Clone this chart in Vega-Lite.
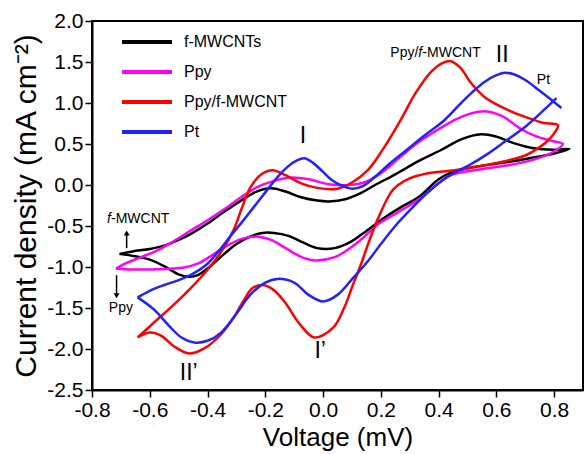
{
"$schema": "https://vega.github.io/schema/vega-lite/v6.json",
"width": 491, "height": 369,
"autosize": {"type": "none"},
"padding": {"left": 92, "top": 21, "right": 2, "bottom": 64},
"background": "white",
"config": {
  "view": {"stroke": "black", "strokeWidth": 2},
  "font": "Liberation Sans",
  "axis": {"grid": false, "domainColor": "black", "domainWidth": 2, "tickColor": "black", "tickWidth": 1.5, "labelColor": "black", "titleColor": "black", "labelFont": "Liberation Sans", "titleFont": "Liberation Sans", "titleFontWeight": "normal", "labelFontSize": 21, "labelOverlap": false, "labelFlush": false}
},
"datasets": {
  "curves": [
    {"series":"f-MWCNTs","seg":"a","i":0,"V":-0.705,"J":-0.84},
    {"series":"f-MWCNTs","seg":"a","i":1,"V":-0.66,"J":-0.81},
    {"series":"f-MWCNTs","seg":"a","i":2,"V":-0.60,"J":-0.78},
    {"series":"f-MWCNTs","seg":"a","i":3,"V":-0.55,"J":-0.74},
    {"series":"f-MWCNTs","seg":"a","i":4,"V":-0.50,"J":-0.67},
    {"series":"f-MWCNTs","seg":"a","i":5,"V":-0.45,"J":-0.58},
    {"series":"f-MWCNTs","seg":"a","i":6,"V":-0.40,"J":-0.47},
    {"series":"f-MWCNTs","seg":"a","i":7,"V":-0.34,"J":-0.32},
    {"series":"f-MWCNTs","seg":"a","i":8,"V":-0.284,"J":-0.19},
    {"series":"f-MWCNTs","seg":"a","i":9,"V":-0.23,"J":-0.08},
    {"series":"f-MWCNTs","seg":"a","i":10,"V":-0.18,"J":-0.04},
    {"series":"f-MWCNTs","seg":"a","i":11,"V":-0.13,"J":-0.08},
    {"series":"f-MWCNTs","seg":"a","i":12,"V":-0.076,"J":-0.15},
    {"series":"f-MWCNTs","seg":"a","i":13,"V":-0.02,"J":-0.19},
    {"series":"f-MWCNTs","seg":"a","i":14,"V":0.02,"J":-0.20},
    {"series":"f-MWCNTs","seg":"a","i":15,"V":0.08,"J":-0.17},
    {"series":"f-MWCNTs","seg":"a","i":16,"V":0.13,"J":-0.10},
    {"series":"f-MWCNTs","seg":"a","i":17,"V":0.18,"J":0.0},
    {"series":"f-MWCNTs","seg":"a","i":18,"V":0.25,"J":0.13},
    {"series":"f-MWCNTs","seg":"a","i":19,"V":0.33,"J":0.29},
    {"series":"f-MWCNTs","seg":"a","i":20,"V":0.41,"J":0.43},
    {"series":"f-MWCNTs","seg":"a","i":21,"V":0.48,"J":0.56},
    {"series":"f-MWCNTs","seg":"a","i":22,"V":0.547,"J":0.62},
    {"series":"f-MWCNTs","seg":"a","i":23,"V":0.60,"J":0.59},
    {"series":"f-MWCNTs","seg":"a","i":24,"V":0.645,"J":0.53},
    {"series":"f-MWCNTs","seg":"a","i":25,"V":0.70,"J":0.47},
    {"series":"f-MWCNTs","seg":"a","i":26,"V":0.75,"J":0.44},
    {"series":"f-MWCNTs","seg":"a","i":27,"V":0.80,"J":0.43},
    {"series":"f-MWCNTs","seg":"a","i":28,"V":0.853,"J":0.44},
    {"series":"f-MWCNTs","seg":"a","i":29,"V":0.80,"J":0.385},
    {"series":"f-MWCNTs","seg":"a","i":30,"V":0.72,"J":0.33},
    {"series":"f-MWCNTs","seg":"a","i":31,"V":0.64,"J":0.28},
    {"series":"f-MWCNTs","seg":"a","i":32,"V":0.524,"J":0.22},
    {"series":"f-MWCNTs","seg":"a","i":33,"V":0.443,"J":0.15},
    {"series":"f-MWCNTs","seg":"a","i":34,"V":0.40,"J":0.07},
    {"series":"f-MWCNTs","seg":"a","i":35,"V":0.33,"J":-0.15},
    {"series":"f-MWCNTs","seg":"a","i":36,"V":0.27,"J":-0.27},
    {"series":"f-MWCNTs","seg":"a","i":37,"V":0.212,"J":-0.40},
    {"series":"f-MWCNTs","seg":"a","i":38,"V":0.15,"J":-0.56},
    {"series":"f-MWCNTs","seg":"a","i":39,"V":0.097,"J":-0.69},
    {"series":"f-MWCNTs","seg":"a","i":40,"V":0.04,"J":-0.77},
    {"series":"f-MWCNTs","seg":"a","i":41,"V":-0.02,"J":-0.77},
    {"series":"f-MWCNTs","seg":"a","i":42,"V":-0.076,"J":-0.69},
    {"series":"f-MWCNTs","seg":"a","i":43,"V":-0.12,"J":-0.62},
    {"series":"f-MWCNTs","seg":"a","i":44,"V":-0.17,"J":-0.585},
    {"series":"f-MWCNTs","seg":"a","i":45,"V":-0.21,"J":-0.585},
    {"series":"f-MWCNTs","seg":"a","i":46,"V":-0.26,"J":-0.64},
    {"series":"f-MWCNTs","seg":"a","i":47,"V":-0.30,"J":-0.72},
    {"series":"f-MWCNTs","seg":"a","i":48,"V":-0.342,"J":-0.84},
    {"series":"f-MWCNTs","seg":"a","i":49,"V":-0.39,"J":-0.99},
    {"series":"f-MWCNTs","seg":"a","i":50,"V":-0.434,"J":-1.10},
    {"series":"f-MWCNTs","seg":"a","i":51,"V":-0.465,"J":-1.12},
    {"series":"f-MWCNTs","seg":"a","i":52,"V":-0.50,"J":-1.09},
    {"series":"f-MWCNTs","seg":"a","i":53,"V":-0.55,"J":-0.99},
    {"series":"f-MWCNTs","seg":"a","i":54,"V":-0.60,"J":-0.91},
    {"series":"f-MWCNTs","seg":"a","i":55,"V":-0.65,"J":-0.87},
    {"series":"f-MWCNTs","seg":"a","i":56,"V":-0.705,"J":-0.84},

    {"series":"Ppy","seg":"a","i":0,"V":-0.717,"J":-1.02},
    {"series":"Ppy","seg":"a","i":1,"V":-0.68,"J":-0.95},
    {"series":"Ppy","seg":"a","i":2,"V":-0.63,"J":-0.88},
    {"series":"Ppy","seg":"a","i":3,"V":-0.57,"J":-0.79},
    {"series":"Ppy","seg":"a","i":4,"V":-0.515,"J":-0.68},
    {"series":"Ppy","seg":"a","i":5,"V":-0.46,"J":-0.56},
    {"series":"Ppy","seg":"a","i":6,"V":-0.40,"J":-0.43},
    {"series":"Ppy","seg":"a","i":7,"V":-0.34,"J":-0.29},
    {"series":"Ppy","seg":"a","i":8,"V":-0.284,"J":-0.15},
    {"series":"Ppy","seg":"a","i":9,"V":-0.23,"J":-0.03},
    {"series":"Ppy","seg":"a","i":10,"V":-0.17,"J":0.05},
    {"series":"Ppy","seg":"a","i":11,"V":-0.11,"J":0.09},
    {"series":"Ppy","seg":"a","i":12,"V":-0.05,"J":0.07},
    {"series":"Ppy","seg":"a","i":13,"V":0.02,"J":0.01},
    {"series":"Ppy","seg":"a","i":14,"V":0.09,"J":0.0},
    {"series":"Ppy","seg":"a","i":15,"V":0.15,"J":0.04},
    {"series":"Ppy","seg":"a","i":16,"V":0.21,"J":0.17},
    {"series":"Ppy","seg":"a","i":17,"V":0.27,"J":0.35},
    {"series":"Ppy","seg":"a","i":18,"V":0.33,"J":0.52},
    {"series":"Ppy","seg":"a","i":19,"V":0.40,"J":0.68},
    {"series":"Ppy","seg":"a","i":20,"V":0.46,"J":0.80},
    {"series":"Ppy","seg":"a","i":21,"V":0.51,"J":0.87},
    {"series":"Ppy","seg":"a","i":22,"V":0.56,"J":0.90},
    {"series":"Ppy","seg":"a","i":23,"V":0.62,"J":0.84},
    {"series":"Ppy","seg":"a","i":24,"V":0.686,"J":0.68},
    {"series":"Ppy","seg":"a","i":25,"V":0.74,"J":0.59},
    {"series":"Ppy","seg":"a","i":26,"V":0.79,"J":0.54},
    {"series":"Ppy","seg":"a","i":27,"V":0.83,"J":0.50},
    {"series":"Ppy","seg":"a","i":28,"V":0.79,"J":0.39},
    {"series":"Ppy","seg":"a","i":29,"V":0.72,"J":0.30},
    {"series":"Ppy","seg":"a","i":30,"V":0.64,"J":0.24},
    {"series":"Ppy","seg":"a","i":31,"V":0.524,"J":0.18},
    {"series":"Ppy","seg":"a","i":32,"V":0.443,"J":0.12},
    {"series":"Ppy","seg":"a","i":33,"V":0.40,"J":0.02},
    {"series":"Ppy","seg":"a","i":34,"V":0.33,"J":-0.18},
    {"series":"Ppy","seg":"a","i":35,"V":0.26,"J":-0.33},
    {"series":"Ppy","seg":"a","i":36,"V":0.19,"J":-0.48},
    {"series":"Ppy","seg":"a","i":37,"V":0.14,"J":-0.64},
    {"series":"Ppy","seg":"a","i":38,"V":0.097,"J":-0.76},
    {"series":"Ppy","seg":"a","i":39,"V":0.04,"J":-0.88},
    {"series":"Ppy","seg":"a","i":40,"V":-0.03,"J":-0.92},
    {"series":"Ppy","seg":"a","i":41,"V":-0.08,"J":-0.87},
    {"series":"Ppy","seg":"a","i":42,"V":-0.134,"J":-0.76},
    {"series":"Ppy","seg":"a","i":43,"V":-0.18,"J":-0.67},
    {"series":"Ppy","seg":"a","i":44,"V":-0.226,"J":-0.63},
    {"series":"Ppy","seg":"a","i":45,"V":-0.284,"J":-0.66},
    {"series":"Ppy","seg":"a","i":46,"V":-0.342,"J":-0.76},
    {"series":"Ppy","seg":"a","i":47,"V":-0.39,"J":-0.87},
    {"series":"Ppy","seg":"a","i":48,"V":-0.434,"J":-0.96},
    {"series":"Ppy","seg":"a","i":49,"V":-0.48,"J":-1.005},
    {"series":"Ppy","seg":"a","i":50,"V":-0.53,"J":-1.02},
    {"series":"Ppy","seg":"a","i":51,"V":-0.60,"J":-1.03},
    {"series":"Ppy","seg":"a","i":52,"V":-0.66,"J":-1.03},
    {"series":"Ppy","seg":"a","i":53,"V":-0.717,"J":-1.02},

    {"series":"Ppy/f-MWCNT","seg":"a","i":0,"V":-0.642,"J":-1.86},
    {"series":"Ppy/f-MWCNT","seg":"a","i":1,"V":-0.58,"J":-1.66},
    {"series":"Ppy/f-MWCNT","seg":"a","i":2,"V":-0.526,"J":-1.49},
    {"series":"Ppy/f-MWCNT","seg":"a","i":3,"V":-0.47,"J":-1.30},
    {"series":"Ppy/f-MWCNT","seg":"a","i":4,"V":-0.411,"J":-1.08},
    {"series":"Ppy/f-MWCNT","seg":"a","i":5,"V":-0.35,"J":-0.80},
    {"series":"Ppy/f-MWCNT","seg":"a","i":6,"V":-0.31,"J":-0.55},
    {"series":"Ppy/f-MWCNT","seg":"a","i":7,"V":-0.28,"J":-0.27},
    {"series":"Ppy/f-MWCNT","seg":"a","i":8,"V":-0.25,"J":-0.02},
    {"series":"Ppy/f-MWCNT","seg":"a","i":9,"V":-0.21,"J":0.14},
    {"series":"Ppy/f-MWCNT","seg":"a","i":10,"V":-0.175,"J":0.18},
    {"series":"Ppy/f-MWCNT","seg":"a","i":11,"V":-0.13,"J":0.12},
    {"series":"Ppy/f-MWCNT","seg":"a","i":12,"V":-0.076,"J":0.02},
    {"series":"Ppy/f-MWCNT","seg":"a","i":13,"V":-0.02,"J":-0.035},
    {"series":"Ppy/f-MWCNT","seg":"a","i":14,"V":0.05,"J":-0.045},
    {"series":"Ppy/f-MWCNT","seg":"a","i":15,"V":0.10,"J":0.03},
    {"series":"Ppy/f-MWCNT","seg":"a","i":16,"V":0.155,"J":0.18},
    {"series":"Ppy/f-MWCNT","seg":"a","i":17,"V":0.21,"J":0.45},
    {"series":"Ppy/f-MWCNT","seg":"a","i":18,"V":0.27,"J":0.80},
    {"series":"Ppy/f-MWCNT","seg":"a","i":19,"V":0.32,"J":1.12},
    {"series":"Ppy/f-MWCNT","seg":"a","i":20,"V":0.374,"J":1.38},
    {"series":"Ppy/f-MWCNT","seg":"a","i":21,"V":0.415,"J":1.49},
    {"series":"Ppy/f-MWCNT","seg":"a","i":22,"V":0.443,"J":1.51},
    {"series":"Ppy/f-MWCNT","seg":"a","i":23,"V":0.475,"J":1.43},
    {"series":"Ppy/f-MWCNT","seg":"a","i":24,"V":0.513,"J":1.24},
    {"series":"Ppy/f-MWCNT","seg":"a","i":25,"V":0.56,"J":1.07},
    {"series":"Ppy/f-MWCNT","seg":"a","i":26,"V":0.63,"J":0.93},
    {"series":"Ppy/f-MWCNT","seg":"a","i":27,"V":0.70,"J":0.83},
    {"series":"Ppy/f-MWCNT","seg":"a","i":28,"V":0.76,"J":0.76},
    {"series":"Ppy/f-MWCNT","seg":"a","i":29,"V":0.813,"J":0.73},
    {"series":"Ppy/f-MWCNT","seg":"a","i":30,"V":0.80,"J":0.63},
    {"series":"Ppy/f-MWCNT","seg":"a","i":31,"V":0.775,"J":0.53},
    {"series":"Ppy/f-MWCNT","seg":"a","i":32,"V":0.745,"J":0.45},
    {"series":"Ppy/f-MWCNT","seg":"a","i":33,"V":0.70,"J":0.36},
    {"series":"Ppy/f-MWCNT","seg":"a","i":34,"V":0.628,"J":0.29},
    {"series":"Ppy/f-MWCNT","seg":"a","i":35,"V":0.55,"J":0.235},
    {"series":"Ppy/f-MWCNT","seg":"a","i":36,"V":0.455,"J":0.18},
    {"series":"Ppy/f-MWCNT","seg":"a","i":37,"V":0.36,"J":0.14},
    {"series":"Ppy/f-MWCNT","seg":"a","i":38,"V":0.30,"J":0.08},
    {"series":"Ppy/f-MWCNT","seg":"a","i":39,"V":0.26,"J":0.0},
    {"series":"Ppy/f-MWCNT","seg":"a","i":40,"V":0.235,"J":-0.09},
    {"series":"Ppy/f-MWCNT","seg":"a","i":41,"V":0.19,"J":-0.41},
    {"series":"Ppy/f-MWCNT","seg":"a","i":42,"V":0.16,"J":-0.68},
    {"series":"Ppy/f-MWCNT","seg":"a","i":43,"V":0.132,"J":-0.96},
    {"series":"Ppy/f-MWCNT","seg":"a","i":44,"V":0.10,"J":-1.25},
    {"series":"Ppy/f-MWCNT","seg":"a","i":45,"V":0.074,"J":-1.49},
    {"series":"Ppy/f-MWCNT","seg":"a","i":46,"V":0.035,"J":-1.74},
    {"series":"Ppy/f-MWCNT","seg":"a","i":47,"V":-0.03,"J":-1.86},
    {"series":"Ppy/f-MWCNT","seg":"a","i":48,"V":-0.08,"J":-1.70},
    {"series":"Ppy/f-MWCNT","seg":"a","i":49,"V":-0.134,"J":-1.42},
    {"series":"Ppy/f-MWCNT","seg":"a","i":50,"V":-0.175,"J":-1.27},
    {"series":"Ppy/f-MWCNT","seg":"a","i":51,"V":-0.21,"J":-1.22},
    {"series":"Ppy/f-MWCNT","seg":"a","i":52,"V":-0.245,"J":-1.26},
    {"series":"Ppy/f-MWCNT","seg":"a","i":53,"V":-0.275,"J":-1.41},
    {"series":"Ppy/f-MWCNT","seg":"a","i":54,"V":-0.31,"J":-1.62},
    {"series":"Ppy/f-MWCNT","seg":"a","i":55,"V":-0.353,"J":-1.82},
    {"series":"Ppy/f-MWCNT","seg":"a","i":56,"V":-0.41,"J":-1.99},
    {"series":"Ppy/f-MWCNT","seg":"a","i":57,"V":-0.463,"J":-2.055},
    {"series":"Ppy/f-MWCNT","seg":"a","i":58,"V":-0.515,"J":-1.97},
    {"series":"Ppy/f-MWCNT","seg":"a","i":59,"V":-0.56,"J":-1.84},
    {"series":"Ppy/f-MWCNT","seg":"a","i":60,"V":-0.60,"J":-1.80},
    {"series":"Ppy/f-MWCNT","seg":"a","i":61,"V":-0.642,"J":-1.86},

    {"series":"Pt","seg":"a","i":0,"V":-0.642,"J":-1.37},
    {"series":"Pt","seg":"a","i":1,"V":-0.60,"J":-1.29},
    {"series":"Pt","seg":"a","i":2,"V":-0.55,"J":-1.22},
    {"series":"Pt","seg":"a","i":3,"V":-0.50,"J":-1.16},
    {"series":"Pt","seg":"a","i":4,"V":-0.45,"J":-1.08},
    {"series":"Pt","seg":"a","i":5,"V":-0.40,"J":-0.96},
    {"series":"Pt","seg":"a","i":6,"V":-0.36,"J":-0.80},
    {"series":"Pt","seg":"a","i":7,"V":-0.32,"J":-0.62},
    {"series":"Pt","seg":"a","i":8,"V":-0.28,"J":-0.45},
    {"series":"Pt","seg":"a","i":9,"V":-0.24,"J":-0.27},
    {"series":"Pt","seg":"a","i":10,"V":-0.20,"J":-0.09},
    {"series":"Pt","seg":"a","i":11,"V":-0.157,"J":0.10},
    {"series":"Pt","seg":"a","i":12,"V":-0.12,"J":0.23},
    {"series":"Pt","seg":"a","i":13,"V":-0.09,"J":0.30},
    {"series":"Pt","seg":"a","i":14,"V":-0.065,"J":0.325},
    {"series":"Pt","seg":"a","i":15,"V":-0.035,"J":0.27},
    {"series":"Pt","seg":"a","i":16,"V":0.0,"J":0.16},
    {"series":"Pt","seg":"a","i":17,"V":0.03,"J":0.06},
    {"series":"Pt","seg":"a","i":18,"V":0.06,"J":0.0},
    {"series":"Pt","seg":"a","i":19,"V":0.10,"J":-0.045},
    {"series":"Pt","seg":"a","i":20,"V":0.14,"J":-0.01},
    {"series":"Pt","seg":"a","i":21,"V":0.18,"J":0.10},
    {"series":"Pt","seg":"a","i":22,"V":0.23,"J":0.26},
    {"series":"Pt","seg":"a","i":23,"V":0.29,"J":0.43},
    {"series":"Pt","seg":"a","i":24,"V":0.35,"J":0.60},
    {"series":"Pt","seg":"a","i":25,"V":0.42,"J":0.79},
    {"series":"Pt","seg":"a","i":26,"V":0.47,"J":0.97},
    {"series":"Pt","seg":"a","i":27,"V":0.513,"J":1.12},
    {"series":"Pt","seg":"a","i":28,"V":0.56,"J":1.26},
    {"series":"Pt","seg":"a","i":29,"V":0.60,"J":1.34},
    {"series":"Pt","seg":"a","i":30,"V":0.628,"J":1.37},
    {"series":"Pt","seg":"a","i":31,"V":0.66,"J":1.35},
    {"series":"Pt","seg":"a","i":32,"V":0.70,"J":1.28},
    {"series":"Pt","seg":"a","i":33,"V":0.75,"J":1.15},
    {"series":"Pt","seg":"a","i":34,"V":0.79,"J":1.04},
    {"series":"Pt","seg":"a","i":35,"V":0.825,"J":0.94},
    {"series":"Pt","seg":"b","i":36,"V":0.808,"J":1.06},
    {"series":"Pt","seg":"b","i":37,"V":0.76,"J":0.90},
    {"series":"Pt","seg":"b","i":38,"V":0.70,"J":0.71},
    {"series":"Pt","seg":"b","i":39,"V":0.63,"J":0.53},
    {"series":"Pt","seg":"b","i":40,"V":0.57,"J":0.38},
    {"series":"Pt","seg":"b","i":41,"V":0.51,"J":0.25},
    {"series":"Pt","seg":"b","i":42,"V":0.455,"J":0.15},
    {"series":"Pt","seg":"b","i":43,"V":0.41,"J":0.05},
    {"series":"Pt","seg":"b","i":44,"V":0.36,"J":-0.10},
    {"series":"Pt","seg":"b","i":45,"V":0.30,"J":-0.31},
    {"series":"Pt","seg":"b","i":46,"V":0.25,"J":-0.50},
    {"series":"Pt","seg":"b","i":47,"V":0.20,"J":-0.72},
    {"series":"Pt","seg":"b","i":48,"V":0.155,"J":-0.93},
    {"series":"Pt","seg":"b","i":49,"V":0.10,"J":-1.15},
    {"series":"Pt","seg":"b","i":50,"V":0.05,"J":-1.34},
    {"series":"Pt","seg":"b","i":51,"V":0.0,"J":-1.42},
    {"series":"Pt","seg":"b","i":52,"V":-0.05,"J":-1.34},
    {"series":"Pt","seg":"b","i":53,"V":-0.10,"J":-1.19},
    {"series":"Pt","seg":"b","i":54,"V":-0.157,"J":-1.145},
    {"series":"Pt","seg":"b","i":55,"V":-0.20,"J":-1.19},
    {"series":"Pt","seg":"b","i":56,"V":-0.25,"J":-1.33},
    {"series":"Pt","seg":"b","i":57,"V":-0.30,"J":-1.57},
    {"series":"Pt","seg":"b","i":58,"V":-0.353,"J":-1.80},
    {"series":"Pt","seg":"b","i":59,"V":-0.40,"J":-1.90},
    {"series":"Pt","seg":"b","i":60,"V":-0.446,"J":-1.92},
    {"series":"Pt","seg":"b","i":61,"V":-0.49,"J":-1.86},
    {"series":"Pt","seg":"b","i":62,"V":-0.53,"J":-1.73},
    {"series":"Pt","seg":"b","i":63,"V":-0.585,"J":-1.52},
    {"series":"Pt","seg":"b","i":64,"V":-0.642,"J":-1.37}
  ],
  "notes": [
    {"kind":"peak","t":"I","V":-0.07,"J":0.60},
    {"kind":"peak","t":"II","V":0.62,"J":1.59},
    {"kind":"peak","t":"I’","V":-0.01,"J":-2.03},
    {"kind":"peak","t":"II’","V":-0.465,"J":-2.29},
    {"kind":"name","t":"Pt","V":0.763,"J":1.28},
    {"kind":"name","t":"Ppy","V":-0.70,"J":-1.50}
  ],
  "split": [
    {"pre":"Ppy/","f":"f","post":"-MWCNT","V":0.33,"J":1.61},
    {"pre":"","f":"f","post":"-MWCNT","V":-0.748,"J":-0.41}
  ],
  "arrows": [
    {"dir":"up","V":-0.68,"J":-0.585,"J2":-0.77},
    {"dir":"down","V":-0.715,"J":-1.35,"J2":-1.10}
  ]
},
"layer": [
  {
    "data": {"name": "curves"},
    "mark": {"type": "line", "strokeWidth": 2.5, "interpolate": "catmull-rom"},
    "encoding": {
      "x": {"field": "V", "type": "quantitative",
        "scale": {"domain": [-0.8, 0.9], "nice": false, "zero": false},
        "axis": {"title": "Voltage (mV)", "titleFontSize": 26, "titlePadding": 4,
          "values": [-0.8,-0.7,-0.6,-0.5,-0.4,-0.3,-0.2,-0.1,0,0.1,0.2,0.3,0.4,0.5,0.6,0.7,0.8,0.9],
          "labelExpr": "abs(datum.value*5 - round(datum.value*5)) > 0.01 ? '' : replace(format(datum.value, '.1f'), '−', '-')",
          "tickSize": {"condition": {"test": "abs(datum.value*5 - round(datum.value*5)) > 0.01", "value": 4}, "value": 7}}},
      "y": {"field": "J", "type": "quantitative",
        "scale": {"domain": [-2.5, 2.0], "nice": false, "zero": false},
        "axis": {"title": "Current density (mA cm⁻²)", "titleFontSize": 30, "titlePadding": 5,
          "values": [-2.5,-2.25,-2,-1.75,-1.5,-1.25,-1,-0.75,-0.5,-0.25,0,0.25,0.5,0.75,1,1.25,1.5,1.75,2],
          "labelExpr": "abs(datum.value*2 - round(datum.value*2)) > 0.01 ? '' : replace(format(datum.value, '.1f'), '−', '-')",
          "tickSize": {"condition": {"test": "abs(datum.value*2 - round(datum.value*2)) > 0.01", "value": 4}, "value": 7}}},
      "color": {"field": "series", "type": "nominal",
        "scale": {"domain": ["f-MWCNTs", "Ppy", "Ppy/f-MWCNT", "Pt"], "range": ["#000000", "#ff00ff", "#ff0000", "#2222ff"]},
        "legend": {"orient": "none", "legendX": 28, "legendY": 13, "title": null, "symbolType": "stroke", "symbolSize": 2500, "symbolStrokeWidth": 4, "labelFontSize": 16, "labelFont": "Liberation Sans", "labelColor": "black", "labelOffset": 10, "rowPadding": 14, "clipHeight": 16, "padding": 0}},
      "detail": {"field": "seg", "type": "nominal"},
      "order": {"field": "i", "type": "quantitative"}
    }
  },
  {
    "data": {"name": "notes"},
    "transform": [{"filter": "datum.kind === 'peak'"}],
    "mark": {"type": "text", "fontSize": 23, "font": "Liberation Sans", "color": "black"},
    "encoding": {
      "x": {"field": "V", "type": "quantitative"},
      "y": {"field": "J", "type": "quantitative"},
      "text": {"field": "t"}
    }
  },
  {
    "data": {"name": "notes"},
    "transform": [{"filter": "datum.kind === 'name'"}],
    "mark": {"type": "text", "fontSize": 14, "font": "Liberation Sans", "color": "black"},
    "encoding": {
      "x": {"field": "V", "type": "quantitative"},
      "y": {"field": "J", "type": "quantitative"},
      "text": {"field": "t"}
    }
  },
  {
    "data": {"name": "split"},
    "mark": {"type": "text", "fontSize": 14, "font": "Liberation Sans", "color": "black", "align": "right"},
    "encoding": {
      "x": {"field": "V", "type": "quantitative"},
      "y": {"field": "J", "type": "quantitative"},
      "text": {"field": "pre"}
    }
  },
  {
    "data": {"name": "split"},
    "mark": {"type": "text", "fontSize": 14, "font": "Liberation Sans", "fontStyle": "italic", "color": "black", "align": "left"},
    "encoding": {
      "x": {"field": "V", "type": "quantitative"},
      "y": {"field": "J", "type": "quantitative"},
      "text": {"field": "f"}
    }
  },
  {
    "data": {"name": "split"},
    "mark": {"type": "text", "fontSize": 14, "font": "Liberation Sans", "color": "black", "align": "left", "dx": 4},
    "encoding": {
      "x": {"field": "V", "type": "quantitative"},
      "y": {"field": "J", "type": "quantitative"},
      "text": {"field": "post"}
    }
  },
  {
    "data": {"name": "arrows"},
    "mark": {"type": "rule", "color": "black", "strokeWidth": 1.5},
    "encoding": {
      "x": {"field": "V", "type": "quantitative"},
      "y": {"field": "J", "type": "quantitative"},
      "y2": {"field": "J2"}
    }
  },
  {
    "data": {"name": "arrows"},
    "mark": {"type": "point", "filled": true, "color": "black", "size": 35, "opacity": 1},
    "encoding": {
      "x": {"field": "V", "type": "quantitative"},
      "y": {"field": "J", "type": "quantitative"},
      "shape": {"field": "dir", "type": "nominal", "scale": {"domain": ["up", "down"], "range": ["triangle-up", "triangle-down"]}, "legend": null}
    }
  }
]
}
